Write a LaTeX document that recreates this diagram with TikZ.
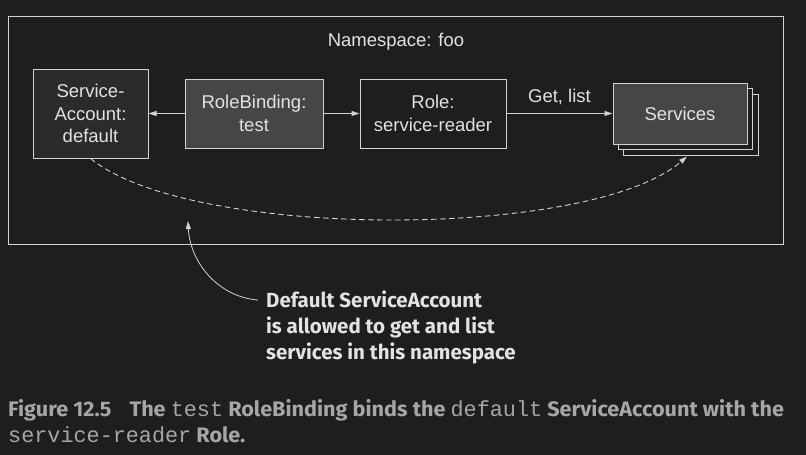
\documentclass[tikz,border=0pt]{standalone}
\usepackage{fontspec}
\setmainfont{Liberation Sans}
\newfontfamily\annfont{Fira Sans}
\newfontfamily\capfont[FakeStretch=1.03]{Fira Sans}
\newfontfamily\capmono{Liberation Mono}
\usetikzlibrary{arrows.meta}
\definecolor{bgc}{HTML}{1E1E1E}
\definecolor{linec}{HTML}{D2D2D2}
\definecolor{txtc}{HTML}{E2E2E2}
\definecolor{safill}{HTML}{2B2B2B}
\definecolor{midfill}{HTML}{464646}
\definecolor{capc}{HTML}{A6A6A6}
\tikzset{
  box/.style={draw=linec, line width=1pt, text=txtc, align=center, inner sep=0pt,
    font=\fontsize{18.5}{22.5}\selectfont},
  arr/.style={draw=linec, line width=0.9pt, -{Triangle[length=8pt,width=5pt]}},
  dasharr/.style={draw=linec, line width=0.9pt, dash pattern=on 5.5pt off 3.5pt, -{Triangle[length=8pt,width=5pt]}},
}
\begin{document}
\begin{tikzpicture}[x=1pt,y=-1pt]
\fill[bgc] (0,0) rectangle (806,455);
\useasboundingbox (0,0) rectangle (806,455);
\node[draw=linec, line width=1pt, minimum width=775pt, minimum height=228pt, inner sep=0pt] (ns) at (395.5,130) {};
\node[text=txtc, font=\fontsize{18.5}{22}\selectfont] (nslabel) at (396,42) {Namespace: foo};
\node[box, fill=safill, minimum width=115pt, minimum height=89pt] (sa) at (90.5,113.5) {Service-\\Account:\\default};
\node[box, fill=midfill, minimum width=138pt, minimum height=69pt] (rb) at (254,113.5) {RoleBinding:\\test};
\node[box, fill=bgc, minimum width=146pt, minimum height=69pt] (role) at (433,113.5) {Role:\\service-reader};
\node[box, fill=bgc, minimum width=135pt, minimum height=61pt] (svc3) at (690.5,124.5) {};
\node[box, fill=bgc, minimum width=134pt, minimum height=61pt] (svc2) at (685,119) {};
\node[box, fill=midfill, minimum width=134pt, minimum height=61pt] (svc) at (680,113.5) {Services};
\draw[arr] (rb.west) -- (sa.east);
\draw[arr] (rb.east) -- (role.west);
\draw[arr] (role.east) -- (svc.west) node[midway, above=5pt, text=txtc, font=\fontsize{18.5}{22}\selectfont] (getlist) {Get, list};
\coordinate (dashend) at (687,156.5);
\draw[dasharr] (sa.south) .. controls (190,240) and (590,240) .. (dashend);
\node[anchor=west, align=left, inner sep=0pt, text=txtc, font=\annfont\bfseries\fontsize{20.5}{26}\selectfont] (ann) at (266,327) {Default ServiceAccount\\is allowed to get and list\\services in this namespace};
\coordinate (annstart) at (258,300);
\coordinate (anntip) at (188,221);
\draw[draw=linec, line width=0.8pt, -{Triangle[length=8pt,width=5pt]}] (annstart) .. controls (218,297) and (190,262) .. (anntip);
\node[anchor=base west, align=left, inner sep=0pt, text=capc, font=\capfont\bfseries\fontsize{21}{26}\selectfont] (cap) at (8,442)
  {Figure 12.5\hspace{18pt}The {\capmono\mdseries\fontsize{21.8}{26}\selectfont test} RoleBinding binds the {\capmono\mdseries\fontsize{21.8}{26}\selectfont default} ServiceAccount with the\\{\capmono\mdseries\fontsize{21.8}{26}\selectfont service-reader} Role.};
\end{tikzpicture}
\end{document}
